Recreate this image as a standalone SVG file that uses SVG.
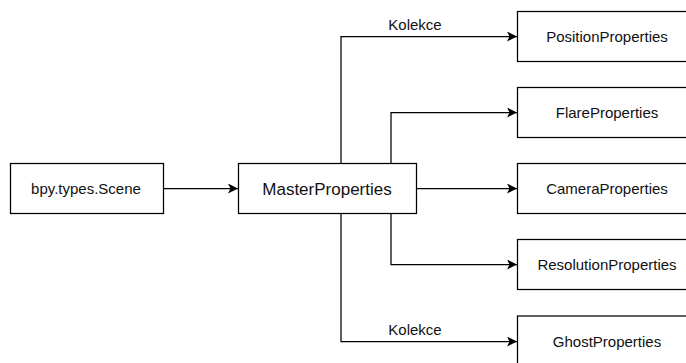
<svg xmlns="http://www.w3.org/2000/svg" width="686" height="363" viewBox="0 0 686 363">
  <style>
    .box { fill: #ffffff; stroke: #000000; stroke-width: 1.25; }
    .lbl { font-family: "Liberation Sans", Arial, sans-serif; font-size: 15px; fill: #111111; text-anchor: middle; }
    .big { font-size: 17px; }
    .edge { fill: none; stroke: #000000; stroke-width: 1.25; marker-end: url(#arrow); }
  </style>
  <defs>
    <marker id="arrow" viewBox="0 0 10 10" refX="10" refY="5" markerWidth="10" markerHeight="10" markerUnits="userSpaceOnUse" orient="auto">
      <path d="M0,0 L10,5 L0,10 L2.5,5 Z" fill="#000000"/>
    </marker>
  </defs>
  <rect width="686" height="363" fill="#ffffff"/>

  <g id="connectors">
    <path class="edge" d="M163.5,188.5 H238"/>
    <path class="edge" d="M416.5,188.5 H517"/>
    <path class="edge" d="M341,163.5 V36.5 H517"/>
    <path class="edge" d="M391,163.5 V112.5 H517"/>
    <path class="edge" d="M391,213.5 V264.5 H517"/>
    <path class="edge" d="M341,213.5 V341.5 H517"/>
    <text class="lbl" x="415" y="30">Kolekce</text>
    <text class="lbl" x="415" y="335">Kolekce</text>
  </g>

  <g id="scene">
    <rect class="box" x="10.5" y="163.5" width="153" height="50"/>
    <text class="lbl" x="86" y="194">bpy.types.Scene</text>
  </g>
  <g id="master">
    <rect class="box" x="238.5" y="163.5" width="178" height="50"/>
    <text class="lbl big" x="327" y="194.5">MasterProperties</text>
  </g>
  <g id="position">
    <rect class="box" x="517.5" y="11.5" width="180" height="50"/>
    <text class="lbl" x="607" y="42">PositionProperties</text>
  </g>
  <g id="flare">
    <rect class="box" x="517.5" y="87.5" width="180" height="50"/>
    <text class="lbl" x="607" y="118">FlareProperties</text>
  </g>
  <g id="camera">
    <rect class="box" x="517.5" y="163.5" width="180" height="50"/>
    <text class="lbl" x="607" y="194">CameraProperties</text>
  </g>
  <g id="resolution">
    <rect class="box" x="517.5" y="239.5" width="180" height="50"/>
    <text class="lbl" x="607" y="270">ResolutionProperties</text>
  </g>
  <g id="ghost">
    <rect class="box" x="517.5" y="316" width="180" height="50"/>
    <text class="lbl" x="607" y="347">GhostProperties</text>
  </g>
</svg>
